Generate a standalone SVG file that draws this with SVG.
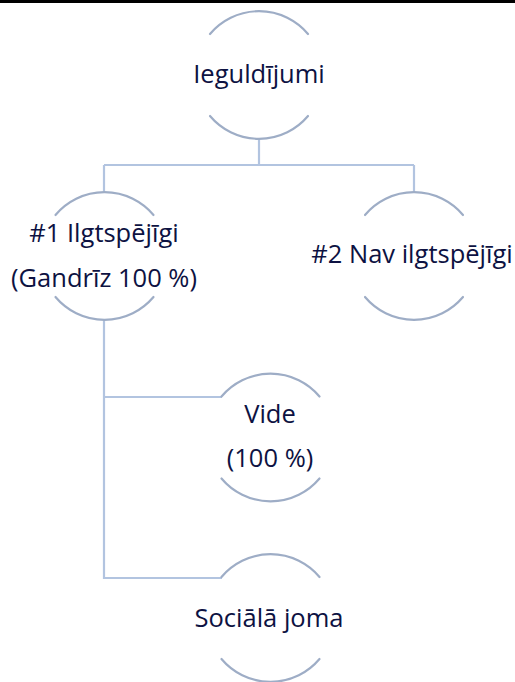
<svg xmlns="http://www.w3.org/2000/svg" width="515" height="682" viewBox="0 0 515 682">
<style>
.arc{fill:none;stroke:#9eadc6;stroke-width:2.2;stroke-linecap:round}
.con{fill:none;stroke:#b2c4e0;stroke-width:2.2}
text{font-family:"Open Sans","Noto Sans",sans-serif;font-size:25.5px;fill:#0d1242;text-anchor:middle}
</style>
<rect x="0" y="0" width="515" height="682" fill="#ffffff"/>
<rect x="0" y="0" width="515" height="3" fill="#000000"/>
<g id="connectors">
<path class="con" d="M259 139 V165"/>
<path class="con" d="M104 165 H414"/>
<path class="con" d="M104 165 V192"/>
<path class="con" d="M414 165 V192"/>
<path class="con" d="M104 320 V578 H222"/>
<path class="con" d="M104 397 H222"/>
</g>
<g id="node-ieguldijumi">
<path class="arc" d="M210 34 A64 64 0 0 1 308 34"/>
<path class="arc" d="M210 116 A64 64 0 0 0 308 116"/>
<text x="259" y="83">Ieguldījumi</text>
</g>
<g id="node-ilgtspejigi">
<path class="arc" d="M55.5 215 A64 64 0 0 1 153.5 215"/>
<path class="arc" d="M55.5 297 A64 64 0 0 0 153.5 297"/>
<text x="104" y="242">#1 Ilgtspējīgi</text>
<text x="104" y="287">(Gandrīz 100 %)</text>
</g>
<g id="node-nav-ilgtspejigi">
<path class="arc" d="M365 215 A64 64 0 0 1 463 215"/>
<path class="arc" d="M365 297 A64 64 0 0 0 463 297"/>
<text x="412" y="263">#2 Nav ilgtspējīgi</text>
</g>
<g id="node-vide">
<path class="arc" d="M221.5 396.5 A64 64 0 0 1 319.5 396.5"/>
<path class="arc" d="M221.5 478.5 A64 64 0 0 0 319.5 478.5"/>
<text x="270" y="423">Vide</text>
<text x="270" y="467">(100 %)</text>
</g>
<g id="node-sociala-joma">
<path class="arc" d="M221.5 577 A64 64 0 0 1 319.5 577"/>
<path class="arc" d="M221.5 659 A64 64 0 0 0 319.5 659"/>
<text x="269" y="627">Sociālā joma</text>
</g>
</svg>
